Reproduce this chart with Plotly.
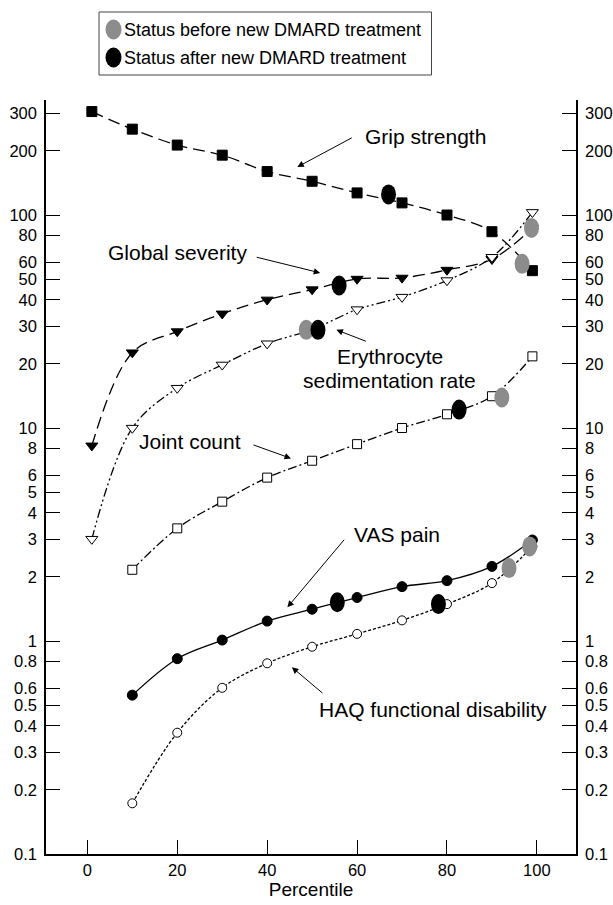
import math
import plotly.graph_objects as go

# ---------------- data ----------------
pct_full = [1, 10, 20, 30, 40, 50, 60, 70, 80, 90, 99]
pct_short = [10, 20, 30, 40, 50, 60, 70, 80, 90, 99]

grip_strength = [306, 253, 213, 191, 160, 144, 127, 114, 100, 83.5, 54.8]
global_severity = [8.26, 22.6, 28.4, 34.4, 40.0, 44.7, 50.1, 50.7, 55.2, 62, 87]
esr = [3.01, 10.0, 15.4, 19.8, 24.9, 29.0, 36.0, 41.2, 49.3, 63.4, 103]
joint_count = [2.16, 3.38, 4.51, 5.85, 7.02, 8.4, 10.0, 11.6, 14.1, 21.7]
vas_pain = [0.557, 0.826, 1.01, 1.24, 1.41, 1.60, 1.80, 1.92, 2.24, 2.98]
haq = [0.173, 0.371, 0.603, 0.786, 0.94, 1.08, 1.25, 1.49, 1.87, 2.78]

# status before / after new DMARD treatment (ESR, grip, global, joint, VAS, HAQ)
before_x = [48.7, 96.7, 98.8, 92.2, 93.8, 98.4]
before_y = [28.9, 59.0, 87, 13.9, 2.20, 2.78]
after_x = [51.3, 67.0, 56.0, 82.7, 55.6, 78.1]
after_y = [28.9, 125, 46.7, 12.2, 1.52, 1.49]

x_ticks = [0, 20, 40, 60, 80, 100]
y_ticks = [0.1, 0.2, 0.3, 0.4, 0.5, 0.6, 0.8, 1, 2, 3, 4, 5, 6, 8, 10,
           20, 30, 40, 50, 60, 80, 100, 200, 300]
y_tick_text = ["0.1", "0.2", "0.3", "0.4", "0.5", "0.6", "0.8", "1", "2", "3",
               "4", "5", "6", "8", "10", "20", "30", "40", "50", "60", "80",
               "100", "200", "300"]

legend_labels = ["Status before new DMARD treatment",
                 "Status after new DMARD treatment"]

# ---------------- styling ----------------
FONT = "Liberation Sans, Arial, Helvetica, sans-serif"
GRAY = "#8c8c8c"
LW = 1.3

W, H = 613, 905
ML, MR, MT, MB = 46, 37, 100, 51
PW = W - ML - MR
PH = H - MT - MB
Y_RANGE = [-1, 2.54]
PX_PER_DECADE = PH / (Y_RANGE[1] - Y_RANGE[0])


def px(x):
    return (x - ML) / PW


def py(y):
    return (H - MB - y) / PH


fig = go.Figure()


def add_series(xs, ys, dash, symbol, msize, fill, name):
    fig.add_trace(go.Scatter(
        x=xs, y=ys, mode="lines+markers", name=name, showlegend=False,
        line=dict(color="black", width=LW, dash=dash, shape="spline", smoothing=1.0),
        marker=dict(symbol=symbol, size=msize, color=fill,
                    line=dict(color="black", width=1)),
        hoverinfo="x+y",
    ))


add_series(pct_full, grip_strength, "12px,6px", "square", 10, "black", "Grip strength")
add_series(pct_full, global_severity, "12px,6px", "triangle-down", 10.5, "black", "Global severity")
add_series(pct_full, esr, "9px,3px,2px,3px,2px,3px", "triangle-down", 10.5, "white",
           "Erythrocyte sedimentation rate")
add_series(pct_short, joint_count, "9px,3px,2px,3px", "square", 9, "white", "Joint count")
add_series(pct_short, vas_pain, "solid", "circle", 10, "black", "VAS pain")
add_series(pct_short, haq, "3px,2px", "circle", 9, "white", "HAQ functional disability")

# invisible trace so the mirrored right-hand axis is drawn with its labels
fig.add_trace(go.Scatter(x=pct_full, y=grip_strength, yaxis="y2", mode="markers",
                         marker=dict(opacity=0), hoverinfo="skip", showlegend=False))

shapes = []
# before / after ellipses: 15 px wide, ~20 px tall on the log axis
half_h = 10.0 / PX_PER_DECADE  # half height in decades
f = 10 ** half_h
for xs, ys, col in [(before_x, before_y, GRAY), (after_x, after_y, "black")]:
    for xv, yv in zip(xs, ys):
        shapes.append(dict(
            type="circle", xref="x", yref="y", xsizemode="pixel",
            xanchor=xv, x0=-7.5, x1=7.5, y0=yv / f, y1=yv * f,
            fillcolor=col, line=dict(width=0), layer="above"))

# legend box (manual)
shapes.append(dict(type="rect", xref="paper", yref="paper",
                   x0=px(99), x1=px(431.5), y0=py(75), y1=py(12),
                   line=dict(color="#444", width=1), fillcolor="white", layer="above"))
for yy, col in [(29.5, GRAY), (57.5, "black")]:
    shapes.append(dict(type="circle", xref="paper", yref="paper",
                       xsizemode="pixel", ysizemode="pixel",
                       xanchor=px(113.5), yanchor=py(yy),
                       x0=-8, x1=8, y0=-10, y1=10,
                       fillcolor=col, line=dict(width=0), layer="above"))

annotations = []
for yy, txt in [(29.5, legend_labels[0]), (57.5, legend_labels[1])]:
    annotations.append(dict(xref="paper", yref="paper", x=px(122), y=py(yy),
                            text=txt, showarrow=False, xanchor="left", yanchor="middle",
                            font=dict(family=FONT, size=18, color="black")))

L = math.log10
AF = dict(family=FONT, size=21, color="black")
labels = [
    ("Grip strength", 61.4, (643 - 137) / 213.5, "left"),
    ("Global severity", 36.0, (643 - 254) / 213.5, "right"),
    ("Erythrocyte", 67.3, (643 - 358) / 213.5, "center"),
    ("sedimentation rate", 67.3, (643 - 382) / 213.5, "center"),
    ("Joint count", 11.0, (643 - 443) / 213.5, "left"),
    ("VAS pain", 58.8, (643 - 536) / 213.5, "left"),
    ("HAQ functional disability", 51.0, (643 - 712) / 213.5, "left"),
]
for txt, xv, yv, anc in labels:
    annotations.append(dict(xref="x", yref="y", x=xv, y=yv, text=txt, showarrow=False,
                            xanchor=anc, yanchor="middle", font=AF))

# arrows: head in data coordinates, tail offset in pixels
arrows = [
    (46.7, 168, 56, -30),
    (51.8, 53.5, -65, -16),
    (55.4, 28.9, 31, 12),
    (45.3, 7.2, -39, -14),
    (44.5, 1.44, 58, -69),
    (45.5, 0.753, 32, 27),
]
for hx, hy, ax, ay in arrows:
    annotations.append(dict(xref="x", yref="y", x=hx, y=L(hy), ax=ax, ay=ay,
                            text="", showarrow=True, arrowhead=2, arrowsize=1.3,
                            arrowwidth=1, arrowcolor="black", standoff=0))

yaxis_common = dict(
    type="log", range=Y_RANGE, tickvals=y_ticks, ticktext=y_tick_text,
    ticks="inside", ticklen=14, tickwidth=1, tickcolor="black",
    showline=True, linecolor="black", linewidth=1.5, showgrid=False, zeroline=False,
    tickfont=dict(family=FONT, size=16.5, color="black"), automargin=False,
    ticklabelstandoff=4,
)

fig.update_layout(
    width=W, height=H,
    margin=dict(l=ML, r=MR, t=MT, b=MB, pad=0),
    paper_bgcolor="white", plot_bgcolor="white",
    showlegend=False,
    xaxis=dict(range=[-9.2, 108.7], tickvals=x_ticks, ticks="inside", ticklen=14,
               tickwidth=1, tickcolor="black", showline=True, linecolor="black",
               linewidth=1.5, showgrid=False, zeroline=False, automargin=False,
               tickfont=dict(family=FONT, size=16.5, color="black"),
               title=dict(text="Percentile", font=dict(family=FONT, size=19, color="black"),
                          standoff=2)),
    yaxis=dict(side="left", **yaxis_common),
    yaxis2=dict(side="right", overlaying="y", anchor="x", **yaxis_common),
    shapes=shapes,
    annotations=annotations,
)

fig.write_html("out.html", config={"displayModeBar": False},
               post_script="document.body.style.margin='0px';document.body.style.padding='0px';")
